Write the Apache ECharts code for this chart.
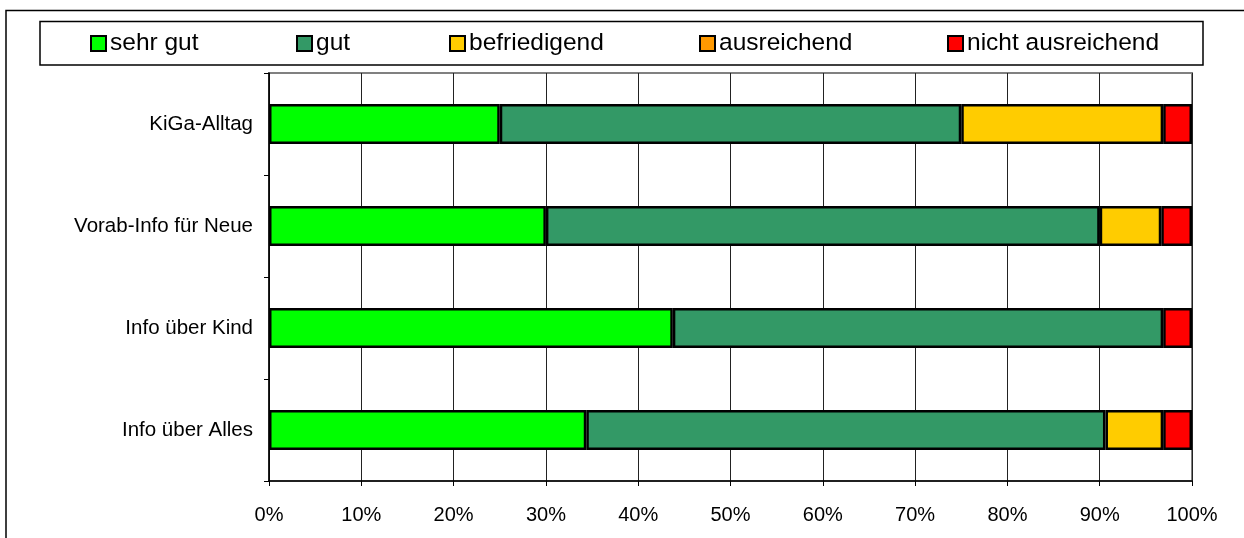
<!DOCTYPE html>
<html>
<head>
<meta charset="utf-8">
<script src="https://cdn.jsdelivr.net/npm/echarts@6/dist/echarts.min.js"></script>
<style>
html,body{margin:0;padding:0;background:#fff;}
#chart{width:1244px;height:538px;}
</style>
</head>
<body>
<div id="chart"></div>
<script>
var categories = ['KiGa-Alltag', 'Vorab-Info für Neue', 'Info über Kind', 'Info über Alles'];
var seriesNames = ['sehr gut', 'gut', 'befriedigend', 'ausreichend', 'nicht ausreichend'];
var sehrGut = [25, 30, 43.75, 34.375];
var gut = [50, 60, 53.125, 56.25];
var befriedigend = [21.875, 6.67, 0, 6.25];
var ausreichend = [0, 0, 0, 0];
var nichtAusreichend = [3.125, 3.33, 3.125, 3.125];
var xTickLabels = ['0%', '10%', '20%', '30%', '40%', '50%', '60%', '70%', '80%', '90%', '100%'];

var colors = ['#00FF00', '#339966', '#FFCC00', '#FF9900', '#FF0000'];
var values = [sehrGut, gut, befriedigend, ausreichend, nichtAusreichend];
var legendLefts = [90, 296, 449, 699, 947];
var FONT = 'Liberation Sans, Arial, sans-serif';

var chart = echarts.init(document.getElementById('chart'), null, {renderer: 'canvas'});

var legends = seriesNames.map(function (n, i) {
  return {
    data: [n],
    left: legendLefts[i],
    top: 31,
    padding: 0,
    itemWidth: 15,
    itemHeight: 15,
    icon: 'rect',
    selectedMode: false,
    itemStyle: {borderColor: '#000', borderWidth: 2},
    textStyle: {fontFamily: FONT, fontSize: 24.5, color: '#000', padding: [0, 0, 0, -1]}
  };
});

var series = seriesNames.map(function (n, i) {
  return {
    name: n,
    type: 'bar',
    stack: 'total',
    barWidth: 40,
    data: values[i].map(function (v) { return v === 0 ? '-' : v; }),
    itemStyle: {color: colors[i], borderColor: '#000', borderWidth: 2.5},
    emphasis: {disabled: true},
    silent: true
  };
});

chart.setOption({
  animation: false,
  backgroundColor: '#fff',
  legend: legends,
  grid: {
    left: 269, right: 52, top: 73, bottom: 57,
    show: true, borderColor: '#808080', borderWidth: 2, backgroundColor: 'transparent'
  },
  xAxis: {
    type: 'value', min: 0, max: 100, interval: 10,
    axisLine: {show: true, lineStyle: {color: '#000', width: 1.5}},
    axisTick: {show: true, length: 5, lineStyle: {color: '#000'}},
    splitLine: {show: true, lineStyle: {color: '#222', width: 1}},
    axisLabel: {
      fontFamily: FONT, fontSize: 20, color: '#000', margin: 24,
      formatter: function (v) { return xTickLabels[Math.round(v / 10)]; }
    }
  },
  yAxis: {
    type: 'category', data: categories, inverse: true,
    axisLine: {show: true, lineStyle: {color: '#000', width: 1.5}},
    axisTick: {show: true, length: 5, lineStyle: {color: '#000'}},
    splitLine: {show: false},
    axisLabel: {fontFamily: FONT, fontSize: 20.5, color: '#000', margin: 16}
  },
  series: series,
  graphic: [
    {type: 'rect', shape: {x: 6, y: 10.5, width: 1300, height: 600}, style: {fill: 'none', stroke: '#000', lineWidth: 1.5}, silent: true, z: -1},
    {type: 'rect', shape: {x: 40, y: 21.5, width: 1163, height: 43.5}, style: {fill: 'none', stroke: '#000', lineWidth: 1.5}, silent: true, z: -1}
  ]
});
</script>
</body>
</html>
